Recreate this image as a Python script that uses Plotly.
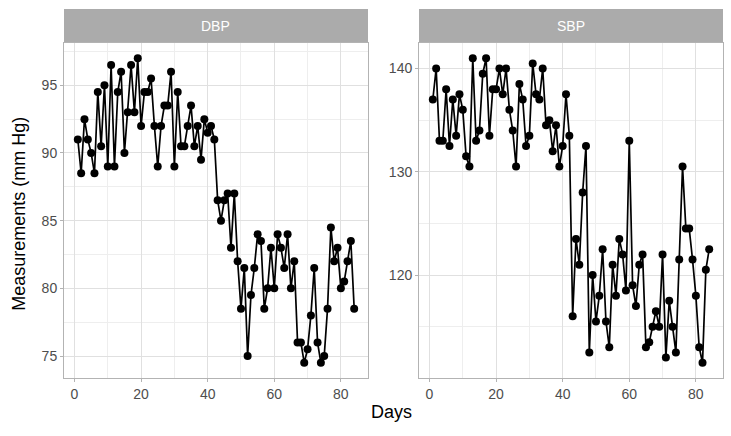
import plotly.graph_objects as go

days = list(range(1, 85))
dbp = [91, 88.5, 92.5, 91, 90, 88.5, 94.5, 90.5, 95, 89, 96.5, 89, 94.5, 96, 90, 93, 96.5, 93, 97, 92,
       94.5, 94.5, 95.5, 92, 89, 92, 93.5, 93.5, 96, 89, 94.5, 90.5, 90.5, 92, 93.5, 90.5, 92, 89.5, 92.5, 91.5,
       92, 91, 86.5, 85, 86.5, 87, 83, 87, 82, 78.5, 81.5, 75, 79.5, 81.5, 84, 83.5, 78.5, 80, 83, 80,
       84, 83, 81.5, 84, 80, 82, 76, 76, 74.5, 75.5, 78, 81.5, 76, 74.5, 75, 78.5, 84.5, 82, 83, 80,
       80.5, 82, 83.5, 78.5]
sbp = [137, 140, 133, 133, 138, 132.5, 137, 133.5, 137.5, 136, 131.5, 130.5, 141, 133, 134, 139.5, 141, 133.5, 138, 138,
       140, 137.5, 140, 136, 134, 130.5, 138.5, 137, 132.5, 133.5, 140.5, 137.5, 137, 140, 134.5, 135, 132, 134.5, 130.5, 132.5,
       137.5, 133.5, 116, 123.5, 121, 128, 132.5, 112.5, 120, 115.5, 118, 122.5, 115.5, 113, 121, 118, 123.5, 122, 118.5, 133,
       119, 117, 121, 122, 113, 113.5, 115, 116.5, 115, 122, 112, 117.5, 115, 112.5, 121.5, 130.5, 124.5, 124.5, 121.5, 118,
       113, 111.5, 120.5, 122.5]
panels = ["DBP", "SBP"]
x_ticks = [0, 20, 40, 60, 80]
dbp_ticks = [75, 80, 85, 90, 95]
sbp_ticks = [120, 130, 140]


def expand(vals, f=0.05):
    lo, hi = min(vals), max(vals)
    d = (hi - lo) * f
    return [lo - d, hi + d]


FONT = "Liberation Sans"
GRID = "#e0e0e0"
MINOR = "#eeeeee"
BORDER = "#b3b3b3"
STRIP = "#ababab"

fig = go.Figure()
for i, (name, vals) in enumerate(zip(panels, [dbp, sbp])):
    sfx = "" if i == 0 else "2"
    fig.add_trace(go.Scatter(
        x=days, y=vals, mode="lines+markers",
        line=dict(color="black", width=1.7),
        marker=dict(color="black", size=8),
        xaxis="x" + sfx, yaxis="y" + sfx, showlegend=False, name=name))

gap_l = 0.4613
gap_r = 0.5387
common_x = dict(range=expand(days), tickvals=x_ticks, ticks="outside", ticklen=3,
                tickcolor=BORDER, showgrid=True, gridcolor=GRID, gridwidth=1,
                minor=dict(dtick=10, tick0=0, showgrid=True, gridcolor=MINOR, gridwidth=0.6, ticks=""),
                zeroline=False, showline=True, mirror=True, linecolor=BORDER, linewidth=1,
                tickfont=dict(family=FONT, size=14, color="#4d4d4d"))
common_y = dict(ticks="outside", ticklen=3, tickcolor=BORDER, showgrid=True, gridcolor=GRID,
                gridwidth=1, zeroline=False, showline=True, mirror=True, linecolor=BORDER,
                linewidth=1, tickfont=dict(family=FONT, size=14, color="#4d4d4d"))

fig.update_layout(
    width=731, height=436,
    margin=dict(l=64, r=8, t=43, b=58),
    paper_bgcolor="white", plot_bgcolor="white",
    xaxis=dict(domain=[0, gap_l], anchor="y", **common_x),
    yaxis=dict(domain=[0, 1], anchor="x", range=expand(dbp), tickvals=dbp_ticks,
               minor=dict(dtick=2.5, tick0=0, showgrid=True, gridcolor=MINOR, gridwidth=0.6, ticks=""),
               **common_y),
    xaxis2=dict(domain=[gap_r, 1], anchor="y2", **common_x),
    yaxis2=dict(domain=[0, 1], anchor="x2", range=expand(sbp), tickvals=sbp_ticks,
                minor=dict(dtick=5, tick0=0, showgrid=True, gridcolor=MINOR, gridwidth=0.6, ticks=""),
                **common_y),
)

strip_h = 34 / 335
for (x0, x1), name in zip([(0, gap_l), (gap_r, 1)], panels):
    fig.add_shape(type="rect", xref="paper", yref="paper", x0=x0, x1=x1, y0=1, y1=1 + strip_h,
                  fillcolor=STRIP, line=dict(width=0), layer="below")
    fig.add_annotation(xref="paper", yref="paper", x=(x0 + x1) / 2, y=1 + strip_h / 2,
                       text=name, showarrow=False, xanchor="center", yanchor="middle",
                       font=dict(family=FONT, size=14, color="white"))

fig.add_annotation(xref="paper", yref="paper", x=0.497, y=-0.1015, text="Days", showarrow=False,
                   xanchor="center", yanchor="middle", font=dict(family=FONT, size=18, color="black"))
fig.add_annotation(xref="paper", yref="paper", x=-0.0683, y=0.49, text="Measurements (mm Hg)",
                   showarrow=False, textangle=-90, xanchor="center", yanchor="middle",
                   font=dict(family=FONT, size=18, color="black"))

fig.write_html("out.html", config={"displayModeBar": False},
               post_script="document.body.style.margin='0';")
